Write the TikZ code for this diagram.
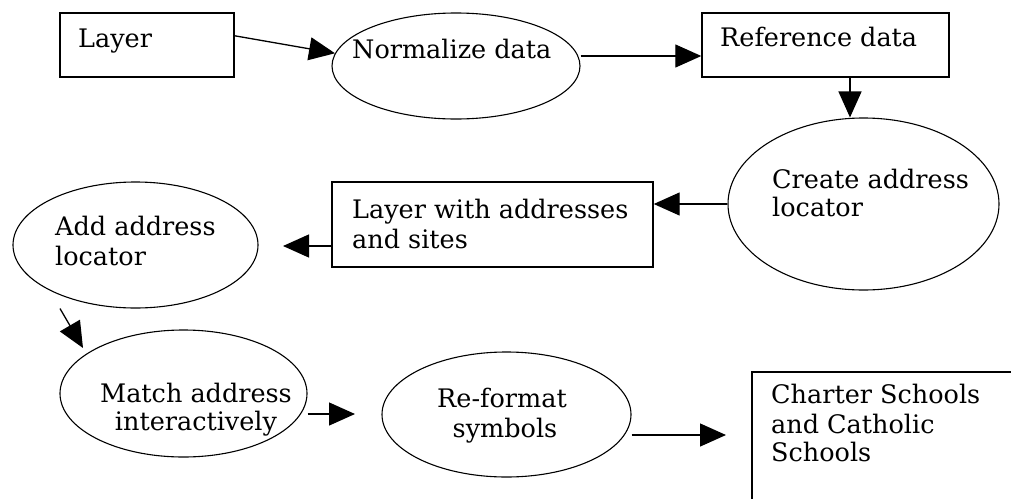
\documentclass[tikz,border=0pt]{standalone}
\usepackage{fontspec}
\setmainfont{DejaVu Serif}
\usetikzlibrary{shapes.geometric,arrows.meta}

\tikzset{
  box/.style={draw, line width=1.4pt, rectangle, inner sep=0pt},
  oval/.style={draw, line width=1.1pt, ellipse, inner sep=0pt},
  lbl/.style={anchor=base west, inner sep=0pt, font=\fontsize{25.5}{30}\selectfont},
  clbl/.style={anchor=base, inner sep=0pt, font=\fontsize{25.5}{30}\selectfont},
  arr/.style={line width=1.3pt, -{Triangle[length=26pt, width=23pt]}},
}

\begin{document}
\begin{tikzpicture}[x=1pt, y=-1pt]
  \useasboundingbox (0,0) rectangle (1011,498);

  % shapes
  \node[box, minimum width=174pt, minimum height=64pt] (layer) at (147,45) {};
  \node[oval, minimum width=248pt, minimum height=106pt] (norm) at (456,66) {};
  \node[box, minimum width=247pt, minimum height=64pt] (ref) at (825.5,45) {};
  \node[oval, minimum width=271pt, minimum height=172pt] (create) at (863.5,204) {};
  \node[box, minimum width=321pt, minimum height=85pt] (lwa) at (492.5,224.5) {};
  \node[oval, minimum width=245pt, minimum height=126pt] (add) at (135.5,245) {};
  \node[oval, minimum width=247pt, minimum height=127pt] (match) at (183.5,393.5) {};
  \node[oval, minimum width=249pt, minimum height=125pt] (refmt) at (506.5,414.5) {};
  \node[box, minimum width=280pt, minimum height=150pt] (charter) at (892,447) {};

  % labels
  \node[lbl] (tlayer) at (78,47) {Layer};
  \node[lbl] (tnorm) at (352,58) {Normalize data};
  \node[lbl] (tref) at (720,46) {Reference data};
  \node[lbl] (tcreateA) at (772,188) {Create address};
  \node[lbl] (tcreateB) at (772,216) {locator};
  \node[lbl] (tlwaA) at (352,218) {Layer with addresses};
  \node[lbl] (tlwaB) at (352,248) {and sites};
  \node[lbl] (taddA) at (55,235) {Add address};
  \node[lbl] (taddB) at (55,265) {locator};
  \node[clbl] (tmatchA) at (196,402) {Match address};
  \node[clbl] (tmatchB) at (196,430) {interactively};
  \node[clbl] (trefmtA) at (502,407) {Re-format};
  \node[clbl] (trefmtB) at (505,437) {symbols};
  \node[lbl] (tchA) at (771,403) {Charter Schools};
  \node[lbl] (tchB) at (771,433) {and Catholic};
  \node[lbl] (tchC) at (771,461) {Schools};

  % free ends of connectors
  \coordinate (addin) at (283,246);
  \coordinate (matchin) at (83,348);
  \coordinate (refmtin) at (355,414);
  \coordinate (charterin) at (726,435);

  % connectors
  \draw[arr] (layer.6.6) -- (norm.174);
  \draw[arr] ([yshift=10pt]norm.east) -- ([yshift=10pt]norm.east -| ref.west);
  \draw[arr] ([xshift=24.5pt]ref.south) -- ([xshift=24.5pt]ref.south |- create.north);
  \draw[arr] (create.west) -- (create.west -| lwa.east);
  \draw[arr] ([yshift=-21.5pt]lwa.west) -- (addin);
  \draw[arr] ([xshift=-75.5pt]add.south) -- (matchin);
  \draw[arr] ([yshift=-20.5pt]match.east) -- (refmtin);
  \draw[arr] ([yshift=-20.5pt]refmt.east) -- (charterin);
\end{tikzpicture}
\end{document}
